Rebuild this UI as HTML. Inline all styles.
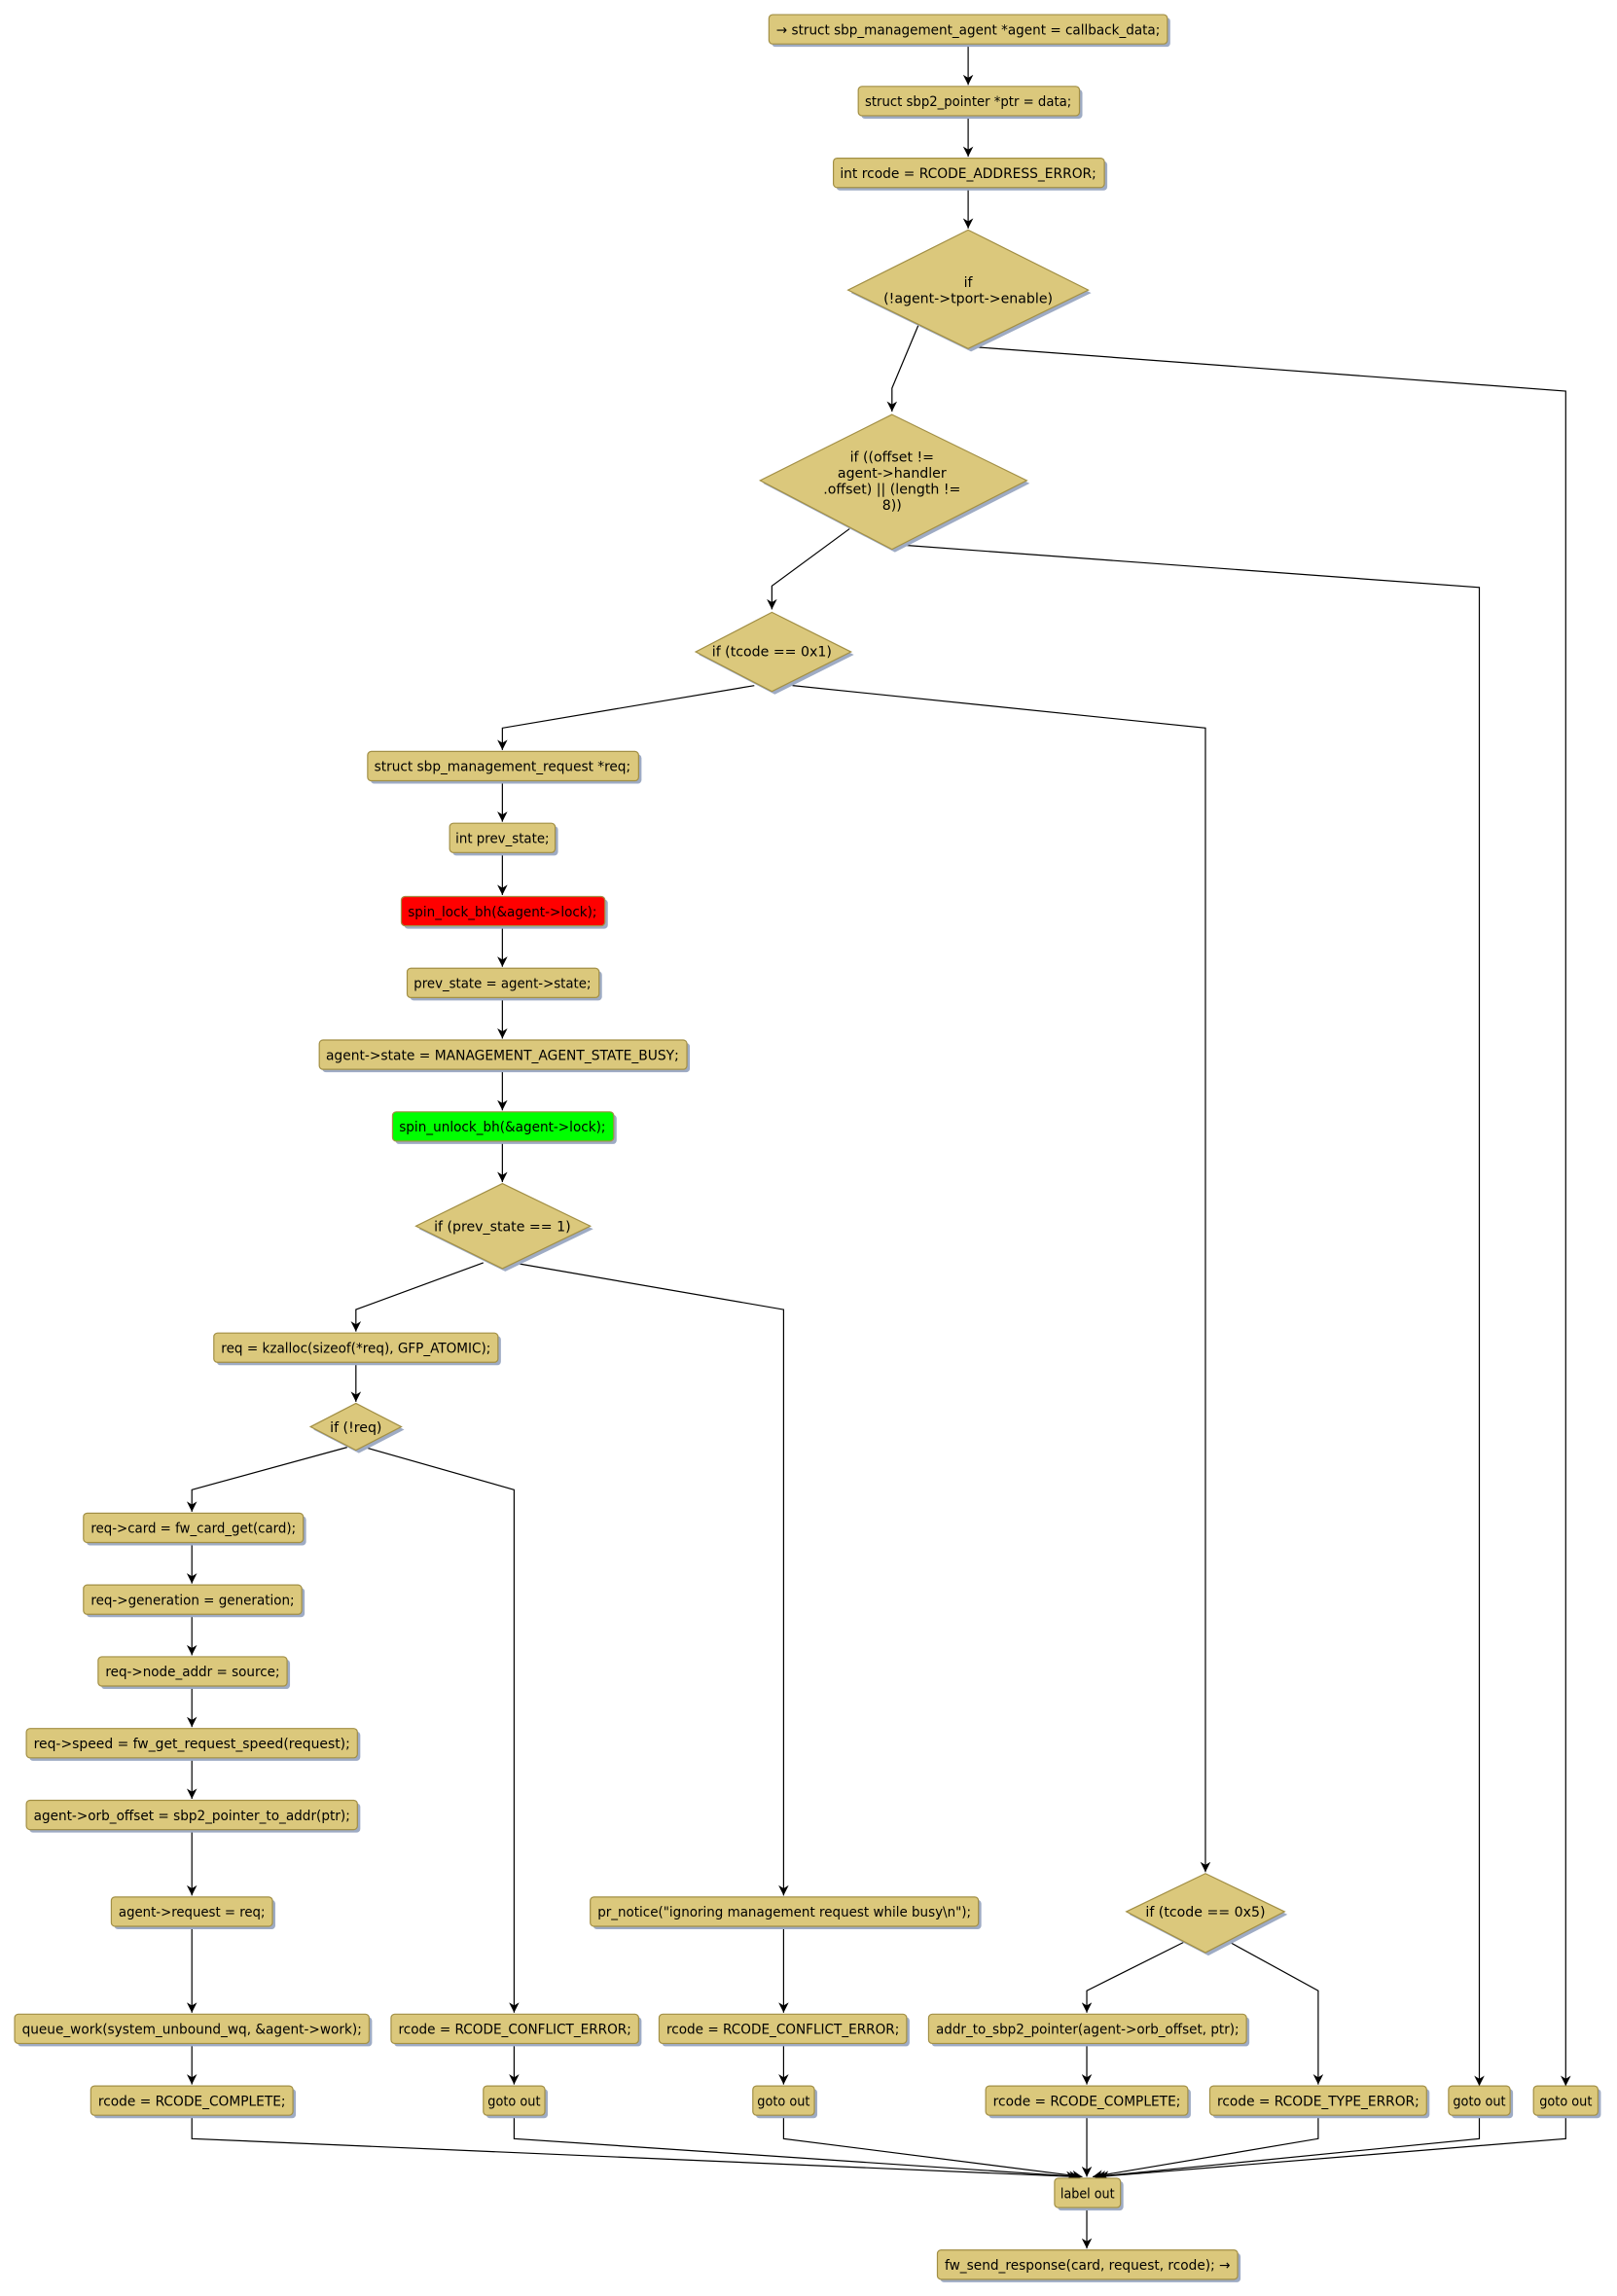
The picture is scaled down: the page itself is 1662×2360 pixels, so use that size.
<!DOCTYPE html>
<html><head><meta charset="utf-8"><style>
html,body{margin:0;padding:0;background:#fff;}
svg{display:block;}
text{font-family:"DejaVu Sans","Liberation Sans",sans-serif;font-size:9.4px;fill:#000;}
.b{fill:#dbc87c;stroke:#a28f45;stroke-width:0.8;}
.s{fill:#9eabc4;}
.e{fill:none;stroke:#000;stroke-width:0.8;}
</style></head><body>
<svg width="1662" height="2360" viewBox="0 0 1104 1567.4" preserveAspectRatio="none" xmlns="http://www.w3.org/2000/svg">
<defs><marker id="a" viewBox="0 0 10 10" refX="10" refY="5" markerWidth="7" markerHeight="7" orient="auto" markerUnits="userSpaceOnUse"><path d="M0,0 L10,5 L0,10 L3,5 z" fill="#000"/></marker></defs>

<g class="e" marker-end="url(#a)">
<path d="M661,30 V58"/>
<path d="M661,79 V107"/>
<path d="M661,128 V156"/>
<path d="M627,222 L609,265 V281"/>
<path d="M667,237 L1069,267 V1424"/>
<path d="M580,361 L527,400 V416"/>
<path d="M615,372 L1010,401 V1424"/>
<path d="M515,468 L343,497 V512"/>
<path d="M541,468 L823,497 V1278"/>
<path d="M343,533 V561"/>
<path d="M343,582 V611"/>
<path d="M343,632 V660"/>
<path d="M343,681 V709"/>
<path d="M343,730 V758"/>
<path d="M343,779 V807"/>
<path d="M330,862 L243,894 V909"/>
<path d="M350,862 L535,894 V1294"/>
<path d="M243,930 V957"/>
<path d="M237,988 L131,1017 V1032"/>
<path d="M249,988 L351,1017 V1374"/>
<path d="M131,1053 V1081"/>
<path d="M131,1102 V1130"/>
<path d="M131,1151 V1179"/>
<path d="M131,1200 V1228"/>
<path d="M131,1249 V1294"/>
<path d="M131,1315 V1374"/>
<path d="M131,1395 V1423"/>
<path d="M351,1395 V1423"/>
<path d="M535,1315 V1374"/>
<path d="M535,1395 V1423"/>
<path d="M810,1325 L742,1359 V1374"/>
<path d="M838,1325 L900,1359 V1423"/>
<path d="M742,1395 V1423"/>
<path d="M131,1444 V1460 L735,1486"/>
<path d="M351,1444 V1460 L737,1486"/>
<path d="M535,1444 V1460 L739,1486"/>
<path d="M742,1444 V1486"/>
<path d="M900,1444 V1460 L746,1486"/>
<path d="M1010,1444 V1460 L748,1486"/>
<path d="M1069,1444 V1460 L750,1486"/>
<path d="M742,1507 V1535"/>
</g>

<g>
<rect class="s" x="527" y="12" width="272" height="20" rx="2.5"/><rect class="b" x="525" y="10" width="272" height="20" rx="2.5"/>
<text x="661" y="23.5" text-anchor="middle" textLength="262" lengthAdjust="spacingAndGlyphs">→ struct sbp_management_agent *agent = callback_data;</text>

<rect class="s" x="588" y="61" width="151" height="20" rx="2.5"/><rect class="b" x="586" y="59" width="151" height="20" rx="2.5"/>
<text x="661" y="72.5" text-anchor="middle" textLength="141" lengthAdjust="spacingAndGlyphs">struct sbp2_pointer *ptr = data;</text>

<rect class="s" x="571" y="110" width="185" height="20" rx="2.5"/><rect class="b" x="569" y="108" width="185" height="20" rx="2.5"/>
<text x="661" y="121.5" text-anchor="middle" textLength="175" lengthAdjust="spacingAndGlyphs">int rcode = RCODE_ADDRESS_ERROR;</text>

<polygon class="s" points="663,159 745,200 663,240 581,200"/><polygon class="b" points="661,157 743,198 661,238 579,198"/>
<text x="661" y="196" text-anchor="middle">if</text>
<text x="661" y="207" text-anchor="middle">(!agent-&gt;tport-&gt;enable)</text>

<polygon class="s" points="611,285 703,330 611,377 521,330"/><polygon class="b" points="609,283 701,328 609,375 519,328"/>
<text x="609" y="315" text-anchor="middle">if ((offset !=</text>
<text x="609" y="326" text-anchor="middle">agent-&gt;handler</text>
<text x="609" y="337" text-anchor="middle">.offset) || (length !=</text>
<text x="609" y="348" text-anchor="middle">8))</text>

<polygon class="s" points="529,420 583,447 529,474 477,447"/><polygon class="b" points="527,418 581,445 527,472 475,445"/>
<text x="527" y="448" text-anchor="middle">if (tcode == 0x1)</text>

<rect class="s" x="253" y="515" width="185" height="20" rx="2.5"/><rect class="b" x="251" y="513" width="185" height="20" rx="2.5"/>
<text x="343" y="526.5" text-anchor="middle" textLength="175" lengthAdjust="spacingAndGlyphs">struct sbp_management_request *req;</text>

<rect class="s" x="309" y="564" width="72" height="20" rx="2.5"/><rect class="b" x="307" y="562" width="72" height="20" rx="2.5"/>
<text x="343" y="575.5" text-anchor="middle" textLength="64" lengthAdjust="spacingAndGlyphs">int prev_state;</text>

<rect class="s" x="276" y="614" width="139" height="20" rx="2.5"/><rect x="274" y="612" width="139" height="20" rx="2.5" fill="#ff0000" stroke="#a28f45" stroke-width="0.8"/>
<text x="343" y="625.5" text-anchor="middle" textLength="129" lengthAdjust="spacingAndGlyphs">spin_lock_bh(&amp;agent-&gt;lock);</text>

<rect class="s" x="280" y="663" width="131" height="20" rx="2.5"/><rect class="b" x="278" y="661" width="131" height="20" rx="2.5"/>
<text x="343" y="674.5" text-anchor="middle" textLength="121" lengthAdjust="spacingAndGlyphs">prev_state = agent-&gt;state;</text>

<rect class="s" x="220" y="712" width="251" height="20" rx="2.5"/><rect class="b" x="218" y="710" width="251" height="20" rx="2.5"/>
<text x="343" y="723.5" text-anchor="middle" textLength="241" lengthAdjust="spacingAndGlyphs">agent-&gt;state = MANAGEMENT_AGENT_STATE_BUSY;</text>

<rect class="s" x="270" y="761" width="151" height="20" rx="2.5"/><rect x="268" y="759" width="151" height="20" rx="2.5" fill="#00ff00" stroke="#a28f45" stroke-width="0.8"/>
<text x="343" y="772.5" text-anchor="middle" textLength="141" lengthAdjust="spacingAndGlyphs">spin_unlock_bh(&amp;agent-&gt;lock);</text>

<polygon class="s" points="345,810 405,839 345,868 286,839"/><polygon class="b" points="343,808 403,837 343,866 284,837"/>
<text x="343" y="840.5" text-anchor="middle">if (prev_state == 1)</text>

<rect class="s" x="148" y="912" width="194" height="20" rx="2.5"/><rect class="b" x="146" y="910" width="194" height="20" rx="2.5"/>
<text x="243" y="923.5" text-anchor="middle" textLength="184" lengthAdjust="spacingAndGlyphs">req = kzalloc(sizeof(*req), GFP_ATOMIC);</text>

<polygon class="s" points="245,960 276,976 245,992 214,976"/><polygon class="b" points="243,958 274,974 243,990 212,974"/>
<text x="243" y="977.5" text-anchor="middle">if (!req)</text>

<rect class="s" x="59" y="1035" width="150" height="20" rx="2.5"/><rect class="b" x="57" y="1033" width="150" height="20" rx="2.5"/>
<text x="132" y="1046.5" text-anchor="middle" textLength="140" lengthAdjust="spacingAndGlyphs">req-&gt;card = fw_card_get(card);</text>

<rect class="s" x="59" y="1084" width="149" height="20" rx="2.5"/><rect class="b" x="57" y="1082" width="149" height="20" rx="2.5"/>
<text x="131.5" y="1095.5" text-anchor="middle" textLength="139" lengthAdjust="spacingAndGlyphs">req-&gt;generation = generation;</text>

<rect class="s" x="69" y="1133" width="129" height="20" rx="2.5"/><rect class="b" x="67" y="1131" width="129" height="20" rx="2.5"/>
<text x="131.5" y="1144.5" text-anchor="middle" textLength="119" lengthAdjust="spacingAndGlyphs">req-&gt;node_addr = source;</text>

<rect class="s" x="20" y="1182" width="226" height="20" rx="2.5"/><rect class="b" x="18" y="1180" width="226" height="20" rx="2.5"/>
<text x="131" y="1193.5" text-anchor="middle" textLength="216" lengthAdjust="spacingAndGlyphs">req-&gt;speed = fw_get_request_speed(request);</text>

<rect class="s" x="20" y="1231" width="226" height="20" rx="2.5"/><rect class="b" x="18" y="1229" width="226" height="20" rx="2.5"/>
<text x="131" y="1242.5" text-anchor="middle" textLength="216" lengthAdjust="spacingAndGlyphs">agent-&gt;orb_offset = sbp2_pointer_to_addr(ptr);</text>

<rect class="s" x="78" y="1297" width="110" height="20" rx="2.5"/><rect class="b" x="76" y="1295" width="110" height="20" rx="2.5"/>
<text x="131" y="1308.5" text-anchor="middle" textLength="100" lengthAdjust="spacingAndGlyphs">agent-&gt;request = req;</text>

<rect class="s" x="12" y="1377" width="242" height="20" rx="2.5"/><rect class="b" x="10" y="1375" width="242" height="20" rx="2.5"/>
<text x="131" y="1388.5" text-anchor="middle" textLength="232" lengthAdjust="spacingAndGlyphs">queue_work(system_unbound_wq, &amp;agent-&gt;work);</text>

<rect class="s" x="64" y="1426" width="138" height="20" rx="2.5"/><rect class="b" x="62" y="1424" width="138" height="20" rx="2.5"/>
<text x="131" y="1437.5" text-anchor="middle" textLength="128" lengthAdjust="spacingAndGlyphs">rcode = RCODE_COMPLETE;</text>

<rect class="s" x="269" y="1377" width="169" height="20" rx="2.5"/><rect class="b" x="267" y="1375" width="169" height="20" rx="2.5"/>
<text x="351.5" y="1388.5" text-anchor="middle" textLength="159" lengthAdjust="spacingAndGlyphs">rcode = RCODE_CONFLICT_ERROR;</text>

<rect class="s" x="332" y="1426" width="42" height="20" rx="2.5"/><rect class="b" x="330" y="1424" width="42" height="20" rx="2.5"/>
<text x="351" y="1437.5" text-anchor="middle" textLength="36" lengthAdjust="spacingAndGlyphs">goto out</text>

<rect class="s" x="405" y="1297" width="265" height="20" rx="2.5"/><rect class="b" x="403" y="1295" width="265" height="20" rx="2.5"/>
<text x="535.5" y="1308.5" text-anchor="middle" textLength="255" lengthAdjust="spacingAndGlyphs">pr_notice("ignoring management request while busy\n");</text>

<rect class="s" x="452" y="1377" width="169" height="20" rx="2.5"/><rect class="b" x="450" y="1375" width="169" height="20" rx="2.5"/>
<text x="534.5" y="1388.5" text-anchor="middle" textLength="159" lengthAdjust="spacingAndGlyphs">rcode = RCODE_CONFLICT_ERROR;</text>

<rect class="s" x="516" y="1426" width="42" height="20" rx="2.5"/><rect class="b" x="514" y="1424" width="42" height="20" rx="2.5"/>
<text x="535" y="1437.5" text-anchor="middle" textLength="36" lengthAdjust="spacingAndGlyphs">goto out</text>

<polygon class="s" points="825,1281 879,1307 825,1335 771,1307"/><polygon class="b" points="823,1279 877,1305 823,1333 769,1305"/>
<text x="823" y="1308.5" text-anchor="middle">if (tcode == 0x5)</text>

<rect class="s" x="636" y="1377" width="217" height="20" rx="2.5"/><rect class="b" x="634" y="1375" width="217" height="20" rx="2.5"/>
<text x="742.5" y="1388.5" text-anchor="middle" textLength="207" lengthAdjust="spacingAndGlyphs">addr_to_sbp2_pointer(agent-&gt;orb_offset, ptr);</text>

<rect class="s" x="675" y="1426" width="138" height="20" rx="2.5"/><rect class="b" x="673" y="1424" width="138" height="20" rx="2.5"/>
<text x="742" y="1437.5" text-anchor="middle" textLength="128" lengthAdjust="spacingAndGlyphs">rcode = RCODE_COMPLETE;</text>

<rect class="s" x="828" y="1426" width="148" height="20" rx="2.5"/><rect class="b" x="826" y="1424" width="148" height="20" rx="2.5"/>
<text x="900" y="1437.5" text-anchor="middle" textLength="138" lengthAdjust="spacingAndGlyphs">rcode = RCODE_TYPE_ERROR;</text>

<rect class="s" x="991" y="1426" width="42" height="20" rx="2.5"/><rect class="b" x="989" y="1424" width="42" height="20" rx="2.5"/>
<text x="1010" y="1437.5" text-anchor="middle" textLength="36" lengthAdjust="spacingAndGlyphs">goto out</text>

<rect class="s" x="1049" y="1426" width="44" height="20" rx="2.5"/><rect class="b" x="1047" y="1424" width="44" height="20" rx="2.5"/>
<text x="1069" y="1437.5" text-anchor="middle" textLength="36" lengthAdjust="spacingAndGlyphs">goto out</text>

<rect class="s" x="722" y="1489" width="45" height="20" rx="2.5"/><rect class="b" x="720" y="1487" width="45" height="20" rx="2.5"/>
<text x="742.5" y="1500.5" text-anchor="middle" textLength="37" lengthAdjust="spacingAndGlyphs">label out</text>

<rect class="s" x="642" y="1538" width="205" height="20" rx="2.5"/><rect class="b" x="640" y="1536" width="205" height="20" rx="2.5"/>
<text x="742.5" y="1549.5" text-anchor="middle" textLength="195" lengthAdjust="spacingAndGlyphs">fw_send_response(card, request, rcode); →</text>
</g>
</svg>
</body></html>
